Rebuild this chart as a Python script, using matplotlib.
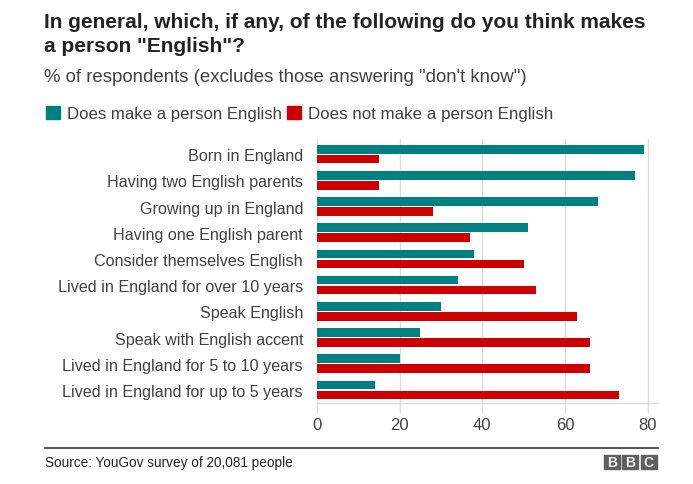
import matplotlib
matplotlib.use("Agg")
import matplotlib.pyplot as plt
from matplotlib.patches import Rectangle
import numpy as np

plt.rcParams['font.family'] = ['Liberation Sans', 'DejaVu Sans']

categories = [
    "Born in England",
    "Having two English parents",
    "Growing up in England",
    "Having one English parent",
    "Consider themselves English",
    "Lived in England for over 10 years",
    "Speak English",
    "Speak with English accent",
    "Lived in England for 5 to 10 years",
    "Lived in England for up to 5 years",
]
does_make = [79, 77, 68, 51, 38, 34, 30, 25, 20, 14]
does_not_make = [15, 15, 28, 37, 50, 53, 63, 66, 66, 73]
series_names = ["Does make a person English", "Does not make a person English"]
xticks = [0, 20, 40, 60, 80]

TEAL = "#008080"
RED = "#cc0000"
TXT = "#404040"

W, H = 693, 485
fig = plt.figure(figsize=(W / 100, H / 100), dpi=100)

def fx(px):
    return px / W

def fy(py):
    return 1 - py / H

ax = fig.add_axes([fx(317), fy(404), fx(658) - fx(317), fy(140) - fy(404)])
y = np.arange(len(categories))
bh = 0.33
off = 0.19
ax.barh(y - off, does_make, height=bh, color=TEAL, zorder=3)
ax.barh(y + off, does_not_make, height=bh, color=RED, zorder=3)
ax.set_ylim(len(categories) - 0.5, -0.58)
ax.set_xlim(0, 82.5)
ax.set_yticks(y)
ax.set_yticklabels(categories, fontsize=11.6, color=TXT)
ax.set_xticks(xticks)
ax.set_xticklabels([str(t) for t in xticks], fontsize=12, color=TXT)
ax.tick_params(axis='y', length=0, pad=10)
ax.tick_params(axis='x', length=7, width=1, color="#dddddd", pad=3)
ax.grid(axis='x', color="#dddddd", linewidth=1, zorder=0)
for s in ['top', 'right', 'left']:
    ax.spines[s].set_visible(False)
ax.spines['bottom'].set_color("#dddddd")
ax.spines['bottom'].set_linewidth(1)

# Title and subtitle
fig.text(fx(44), fy(22), 'In general, which, if any, of the following do you think makes',
         fontsize=15, fontweight='bold', color="#222222", va='center', ha='left')
fig.text(fx(44), fy(46), 'a person "English"?',
         fontsize=15, fontweight='bold', color="#222222", va='center', ha='left')
fig.text(fx(44), fy(78), '% of respondents (excludes those answering "don\'t know")',
         fontsize=13.4, color=TXT, va='center', ha='left')

# Legend
fig.patches.append(Rectangle((fx(46), fy(120)), fx(14), fy(107) - fy(120), color=TEAL,
                             transform=fig.transFigure, figure=fig))
fig.text(fx(67), fy(114), series_names[0], fontsize=12.1, color=TXT, va='center', ha='left')
fig.patches.append(Rectangle((fx(287), fy(120)), fx(14), fy(107) - fy(120), color=RED,
                             transform=fig.transFigure, figure=fig))
fig.text(fx(308), fy(114), series_names[1], fontsize=12.2, color=TXT, va='center', ha='left')

# Footer
fig.add_artist(plt.Line2D([fx(45), fx(658)], [fy(449), fy(449)], color="#333333",
                          linewidth=1.2, transform=fig.transFigure))
fig.text(fx(45), fy(463), 'Source: YouGov survey of 20,081 people',
         fontsize=9.8, color="#222222", va='center', ha='left')
for i, ch in enumerate("BBC"):
    x0 = 604 + i * 18.3
    fig.patches.append(Rectangle((fx(x0), fy(470)), fx(16), fy(456) - fy(470), color="#5f5f5f",
                                 transform=fig.transFigure, figure=fig))
    fig.text(fx(x0 + 8), fy(463), ch, fontsize=10, fontweight='bold', color='#eeeeee',
             va='center', ha='center')

fig.savefig("out.png", dpi=100)
